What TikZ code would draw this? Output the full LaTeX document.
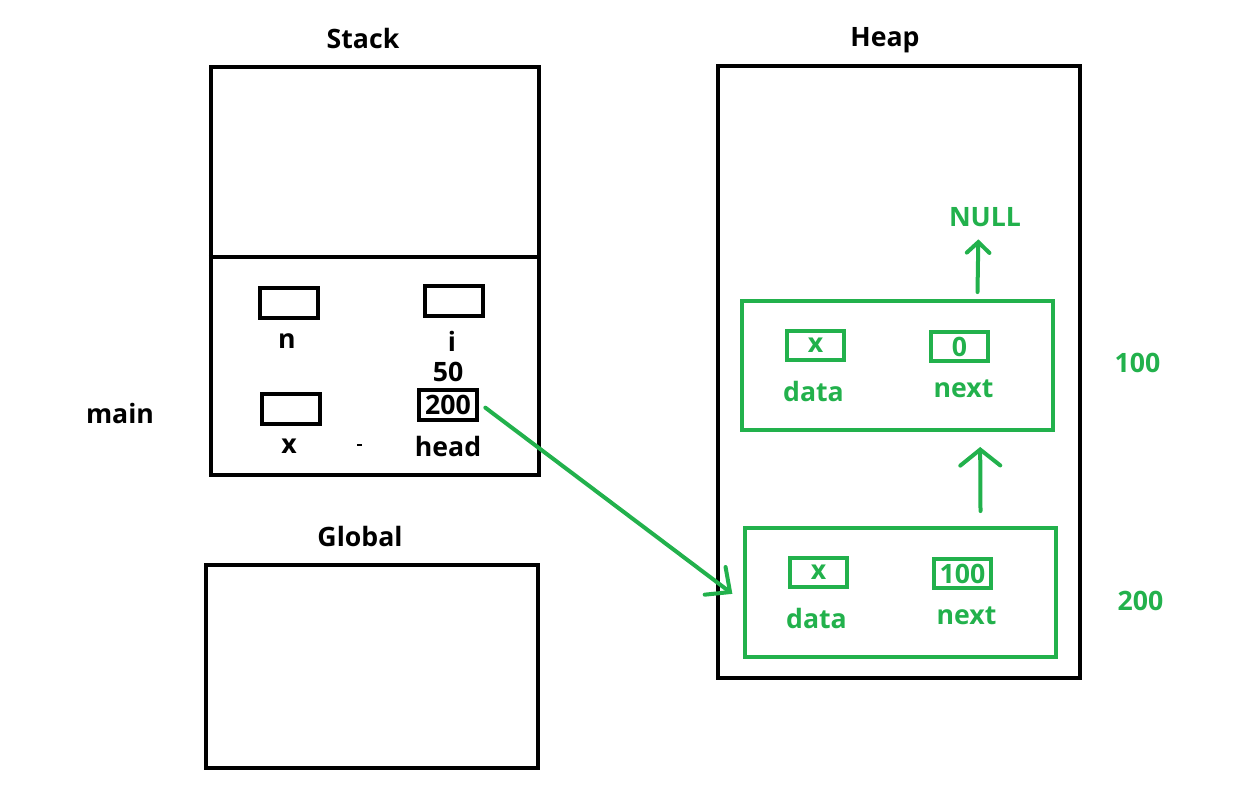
\documentclass[tikz,border=0pt]{standalone}
\usepackage{fontspec}
\setmainfont{Open Sans}
\usetikzlibrary{arrows.meta}
\definecolor{heapgreen}{RGB}{34,177,76}
\tikzset{
	lbl/.style={font=\bfseries\fontsize{20}{23}\selectfont},
	mem/.style={draw, line width=3.2pt, inner sep=0pt},
	slot/.style={draw, line width=3pt, inner sep=0pt, minimum width=43pt, minimum height=22pt, font=\bfseries\fontsize{20}{23}\selectfont},
	arr/.style={heapgreen, line width=3pt, line cap=round, -{Straight Barb[length=#1,line cap=round]}},
	arr/.default={8pt,width=17pt}
}
\begin{document}
\begin{tikzpicture}[x=0.75pt,y=-0.75pt]
		\useasboundingbox (0,0) rectangle (1255,786);
		% stack and global
		\node[lbl] (stacklbl) at (363,38) {Stack};
		\node[mem, minimum width=246pt, minimum height=306pt] (stack) at (375,271) {};
		\coordinate (split) at (375,257);
		\draw[line width=3.2pt] (stack.west |- split)--(stack.east |- split);
		\foreach \nm/\xx/\yy/\ly in {n/289/303/341, i/454/301/341, x/291/409/446}{
			\node[slot] (\nm) at (\xx,\yy) {};
			\node[lbl] (\nm lbl) at (\xx-2,\ly) {\nm};}
		\node[slot] (head) at (448,405) {200};
		\node[lbl] (headold) at (448,372) {50};
		\node[lbl] (headlbl) at (448,446) {head};
		\draw[line width=1pt] (357,445)--(362,445);
		\node[lbl] (main) at (120,413) {main};
		\node[lbl] (globallbl) at (360,536) {Global};
		\node[mem, minimum width=249pt, minimum height=152pt] (global) at (372,666.5) {};
		% heap
		\node[lbl] (heaplbl) at (885,40) {Heap};
		\node[mem, minimum width=271.5pt, minimum height=459pt] (heap) at (899,372) {};
		\foreach \nm/\xx/\yy/\adr/\ay/\val in {one/897.5/365.5/100/363/0, two/900.5/592.5/200/601/100}{
			\node[mem, heapgreen, minimum width=233pt, minimum height=97pt] (\nm) at (\xx,\yy) {};
			\node[slot, heapgreen] (\nm data) at ([shift={(-82,-20)}]\nm) {x};
			\node[slot, heapgreen] (\nm next) at ([shift={(62,-19)}]\nm) {\val};
			\node[lbl, heapgreen] at ([shift={(-84,25.5)}]\nm) {data};
			\node[lbl, heapgreen] at ([shift={(66,23.5)}]\nm) {next};
			\node[lbl, heapgreen] (\nm adr) at (\xx+240,\ay) {\adr};}
		\node[lbl, heapgreen] (null) at (985,217) {NULL};
		\draw[arr] ([shift={(60pt,5pt)}]one.north)--([shift={(-5pt,-6pt)}]null.south);
		\draw[arr={12pt,width=30pt}] ([shift={(60pt,11pt)}]two.north)--([shift={(62pt,-11pt)}]one.south);
		\draw[arr={14pt,width=26pt}] ([shift={(5pt,-2pt)}]head.east)--([shift={(-8pt,-1pt)}]two.west);
\end{tikzpicture}
\end{document}
